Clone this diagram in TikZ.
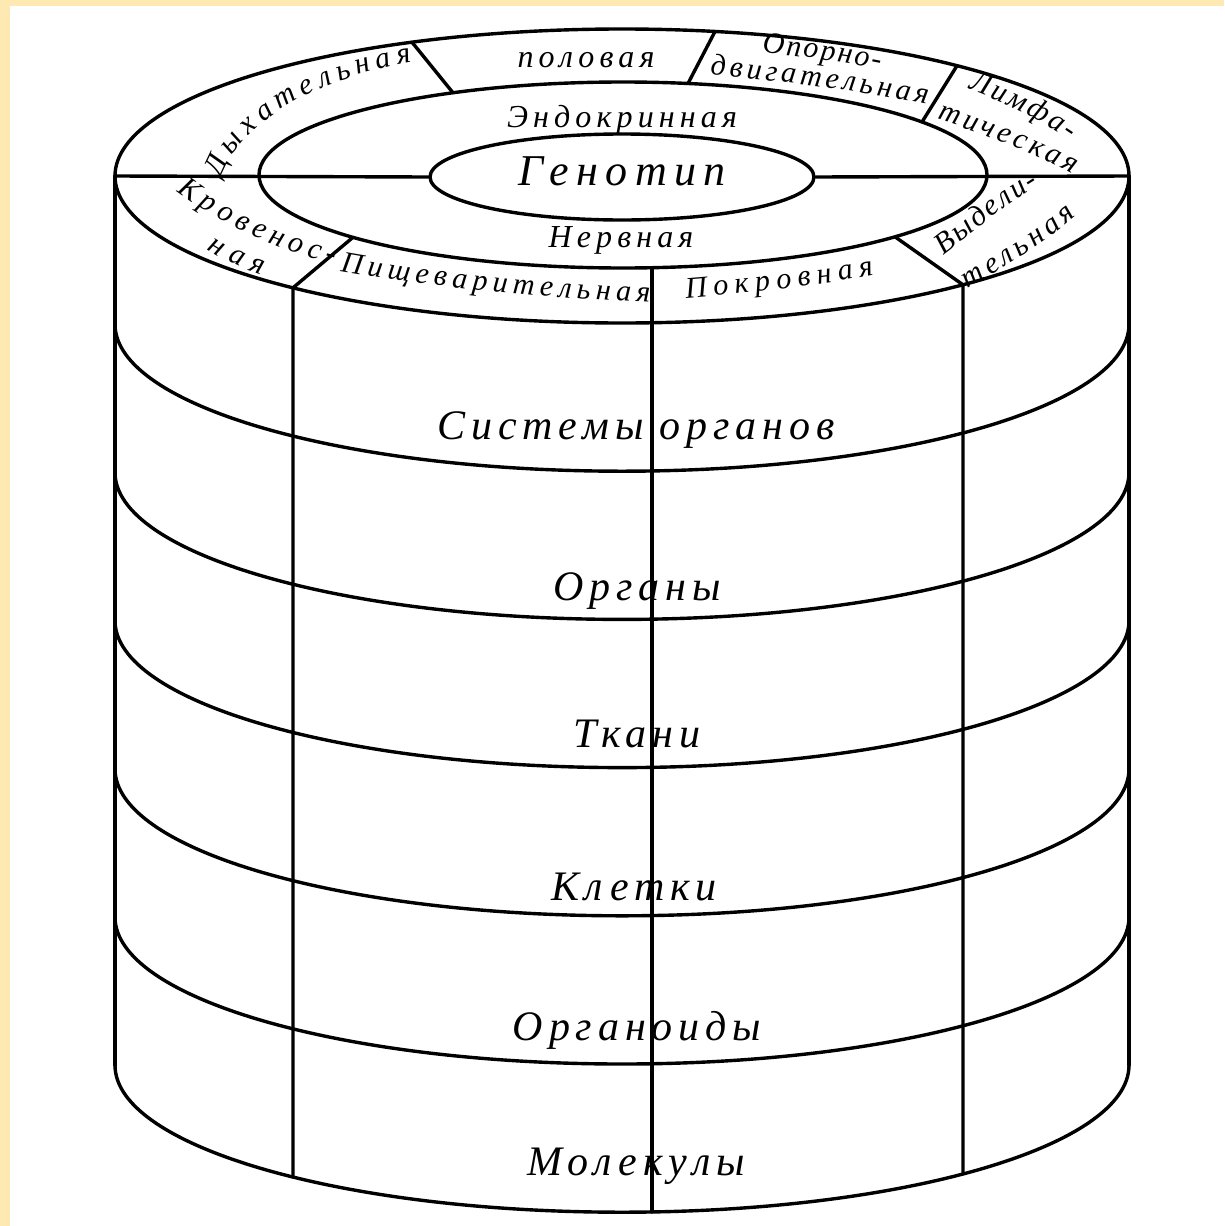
\documentclass[tikz,border=0pt]{standalone}
\usepackage{fontspec}
\setmainfont{Liberation Serif}
\newfontfamily\lyrfont[LetterSpace=14]{Liberation Serif}
\newfontfamily\genfont[LetterSpace=17]{Liberation Serif}
\newfontfamily\rngfont[LetterSpace=16]{Liberation Serif}
\newfontfamily\crvfont{Liberation Serif}
\usetikzlibrary{decorations.text,shapes.geometric}
\definecolor{framecol}{HTML}{FFE9B3}
\tikzset{
  ln/.style={line width=3.4pt, line join=round, line cap=round},
  lyrlabel/.style={anchor=base, inner sep=0pt, font=\lyrfont\itshape\fontsize{42}{42}\selectfont},
  rnglabel/.style={anchor=base, inner sep=0pt, font=\rngfont\itshape\fontsize{32}{32}\selectfont},
  curved/.style={decorate, decoration={text along path, text align=fit to path,
     text={|\crvfont\itshape\fontsize{30}{30}\selectfont|#1}}}
}
\begin{document}
\begin{tikzpicture}[x=1pt,y=-1pt]
\fill[framecol] (0,0) rectangle (1224,1226);
\fill[white] (10,6) rectangle (1224,1226);
\useasboundingbox (0,0) rectangle (1224,1226);

% cylinder sides and layer boundaries
\draw[ln] (115,176) -- (115,1065.2);
\draw[ln] (1129,176) -- (1129,1065.2);
\foreach \k in {1,...,6}
  \draw[ln] (115,{176+\k*148.2}) arc[start angle=180, end angle=360, x radius=507pt, y radius=147pt];

% top surface
\draw[ln] (622,176) ellipse[x radius=507pt, y radius=147pt];
\draw[ln] (623,175) ellipse[x radius=364pt, y radius=93pt];
\node[draw, ln, ellipse, minimum width=384pt, minimum height=86pt, inner sep=0pt] (geno) at (622,177) {};
\draw[ln] (115,176) -- (geno.west);
\draw[ln] (geno.east) -- (1129,176);

% dividers of the outer ring and vertical lines
\draw[ln] (412,42.2) -- (453,92.8);
\draw[ln] (715,31.5) -- (688,83.5);
\draw[ln] (957,65.7) -- (922,122);
\draw[ln] (353,237.3) -- (293,287.8) -- (293,1177);
\draw[ln] (652,267.7) -- (652,1211.9);
\draw[ln] (895,236.8) -- (963,284.8) -- (963,1174);

% inner labels
\node[anchor=base, inner sep=0pt, font=\genfont\itshape\fontsize{44}{44}\selectfont] (genotxt) at (622,185) {Генотип};
\node[rnglabel] (endo) at (622,127) {Эндокринная};
\node[rnglabel] (nerv) at (621,247) {Нервная};
\node[rnglabel] (polov) at (586,67) {половая};

% curved labels of the outer ring
\path[curved=Дыхательная] (221,178) .. controls (238,130) and (300,82) .. (412,62);
\path[curved=Кровенос-] (177,191) .. controls (219,223) and (275,250) .. (334,264);
\path[curved=ная] (207,249) .. controls (222,259) and (240,268) .. (262,275);
\path[curved=Лимфа-] (968,89) .. controls (997,100) and (1037,117) .. (1070,140);
\path[curved=тическая] (937,119) .. controls (974,131) and (1029,150) .. (1073,174);
\path[curved=Выдели-] (943,255) .. controls (973,232) and (1003,207) .. (1039,185);
\path[curved=тельная] (968,289) .. controls (1000,269) and (1040,247) .. (1076,216);
\path[curved=Опорно-] (762,53) .. controls (800,56) and (840,61) .. (880,69);
\path[curved=двигательная] (710,75) .. controls (775,80) and (860,91) .. (927,104);
\path[curved=Пищеварительная] (340,271) .. controls (430,287) and (540,298) .. (650,302);
\path[curved=Покровная] (686,298) .. controls (745,293) and (810,287) .. (874,275);

% layer labels
\node[lyrlabel] (l1) at (636,439) {Системы органов};
\node[lyrlabel] (l2) at (637,600) {Органы};
\node[lyrlabel] (l3) at (637,747) {Ткани};
\node[lyrlabel] (l4) at (634,900) {Клетки};
\node[lyrlabel] (l5) at (637,1040) {Органоиды};
\node[lyrlabel] (l6) at (636,1175) {Молекулы};
\end{tikzpicture}
\end{document}
